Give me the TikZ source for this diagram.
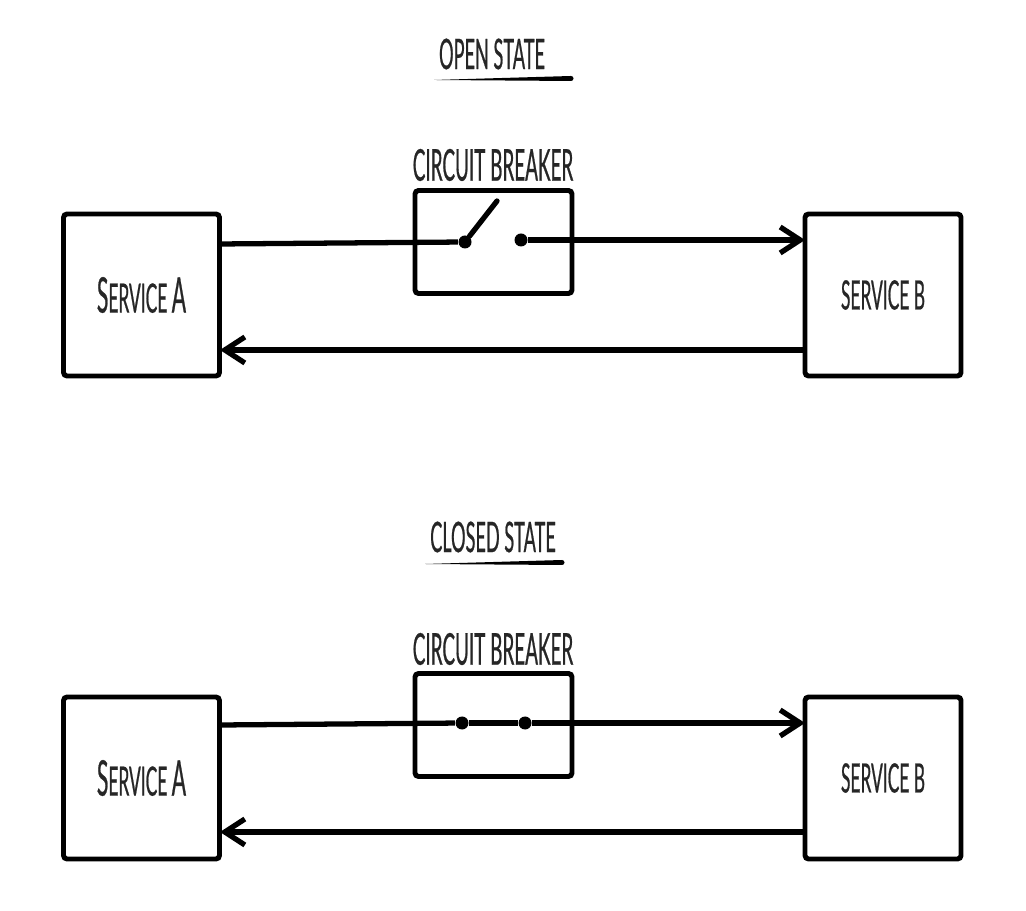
\documentclass[tikz,border=0pt]{standalone}
\usepackage{fontspec}
\setmainfont[FakeStretch=0.43,FakeBold=0.5]{Lato}
\usetikzlibrary{arrows.meta}
\tikzset{
  svcbox/.style={draw, line width=1.4pt, rounded corners=1pt, minimum width=1.56cm, minimum height=1.62cm, text=black!85, font=\fontsize{11.5}{12}\selectfont, inner sep=0pt},
  cbbox/.style={draw, line width=1.4pt, rounded corners=1pt, minimum width=1.57cm, minimum height=1.03cm},
  titlelabel/.style={text=black!85, font=\fontsize{12.5}{13}\selectfont, inner sep=0pt},
  statelabel/.style={titlelabel, font=\fontsize{12}{13}\selectfont},
  dotnode/.style={circle, fill=black, minimum size=0.13cm, inner sep=0pt},
  wire/.style={line width=1.5pt},
  wirearrow/.style={line width=1.5pt, -{Straight Barb[length=2mm,width=2.6mm,line width=1.5pt]}}
}
\newcommand{\svctext}{\fontsize{14}{14}\selectfont S\fontsize{11.5}{12}\selectfont ERVICE \fontsize{14}{14}\selectfont A}
\begin{document}
\begin{tikzpicture}
    \useasboundingbox (0,0) rectangle (10.26,9.10);

    % Open state
    \node[statelabel] (opentitle) at (4.92,8.56) {OPEN STATE};
    \fill (4.34,8.30) -- (5.71,8.34) arc (90:-90:0.025) -- cycle;
    \node[titlelabel] (opencblabel) at (4.93,7.45) {CIRCUIT BREAKER};
    \node[cbbox] (opencb) at (4.935,6.68) {};
    \node[svcbox] (openA) at (1.415,6.15) {\svctext};
    \node[svcbox] (openB) at (8.83,6.15) {SERVICE B};

    \node[dotnode] (openpole) at (4.65,6.68) {};
    \node[dotnode] (opencontact) at (5.21,6.70) {};
    \coordinate (openblade) at (4.97,7.09);
    \coordinate (openAout) at (2.20,6.66);
    \coordinate (openBin) at (8.05,6.70);
    \coordinate (openBout) at (8.05,5.60);
    \coordinate (openAin) at (2.20,5.60);

    \draw[wire] (openAout) -- (openpole);
    \draw[wire, line cap=round] (openpole) -- (openblade);
    \draw[wirearrow] (opencontact) -- (openBin);
    \draw[wirearrow] (openBout) -- (openAin);

    % Closed state
    \node[statelabel] (closedtitle) at (4.93,3.73) {CLOSED STATE};
    \fill (4.25,3.46) -- (5.62,3.50) arc (90:-90:0.025) -- cycle;
    \node[titlelabel] (closedcblabel) at (4.93,2.61) {CIRCUIT BREAKER};
    \node[cbbox] (closedcb) at (4.935,1.85) {};
    \node[svcbox] (closedA) at (1.415,1.32) {\svctext};
    \node[svcbox] (closedB) at (8.83,1.32) {SERVICE B};

    \node[dotnode] (closedpole) at (4.62,1.87) {};
    \node[dotnode] (closedcontact) at (5.25,1.87) {};
    \coordinate (closedAout) at (2.20,1.85);
    \coordinate (closedBin) at (8.05,1.87);
    \coordinate (closedBout) at (8.05,0.78);
    \coordinate (closedAin) at (2.20,0.78);

    \draw[wire] (closedAout) -- (closedpole);
    \draw[wire] (closedpole) -- (closedcontact);
    \draw[wirearrow] (closedcontact) -- (closedBin);
    \draw[wirearrow] (closedBout) -- (closedAin);
\end{tikzpicture}
\end{document}
